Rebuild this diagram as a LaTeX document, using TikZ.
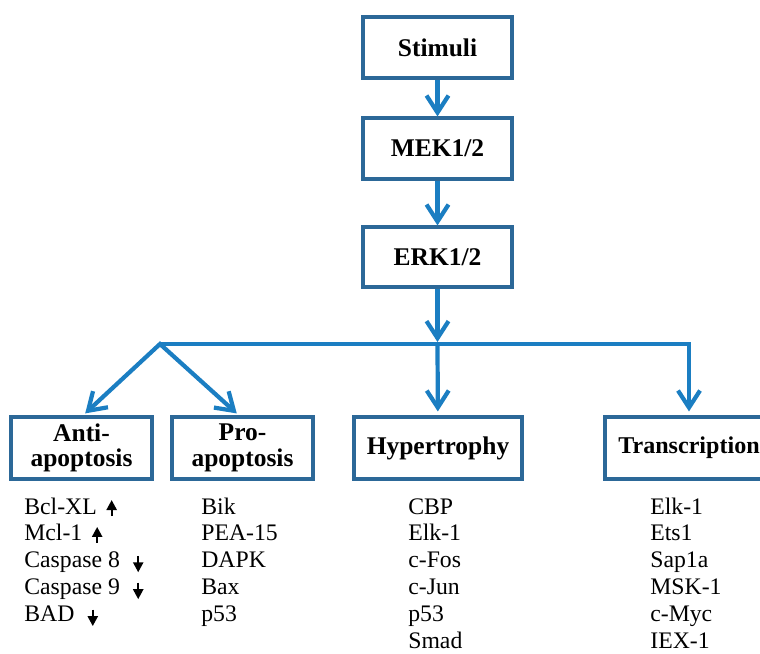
\documentclass[tikz,border=0pt]{standalone}
\usepackage{fontspec}
\setmainfont{Liberation Serif}
\usetikzlibrary{arrows.meta}
\usetikzlibrary{positioning}
\definecolor{flowblue}{RGB}{27,126,194}
\definecolor{boxblue}{RGB}{44,104,152}
\tikzset{>={Straight Barb[length=3.4mm,width=4.4mm]},
box/.style={draw=boxblue,line width=1.8pt,inner sep=0pt,align=center,font=\fontsize{14.5}{14.5}\selectfont\bfseries},
flow/.style={draw=flowblue,line width=2.4pt},
item/.style={inner sep=0pt,anchor=base west,font=\fontsize{13.5}{15}\selectfont},
updown/.style={line width=1.3pt,-{Triangle[length=2mm,width=2mm]}}}

\begin{document}
\begin{tikzpicture}[x=0.02cm,y=-0.02cm]
\useasboundingbox (0,0) rectangle (760,653);
\clip (0,0) rectangle (760,653);

% main chain
\node (stim) [box,minimum width=2.98cm,minimum height=1.22cm] at (437.5,47.5) {Stimuli};
\node (mek) [box,minimum width=2.98cm,minimum height=1.22cm] at (437.5,148.5) {MEK1/2};
\node (erk) [box,minimum width=2.98cm,minimum height=1.2cm] at (437.5,257) {ERK1/2};

% outcomes
\node (anti) [box,minimum width=2.82cm,minimum height=1.24cm] at (81.5,448) {Anti-\\apoptosis};
\node (pro) [box,minimum width=2.82cm,minimum height=1.24cm] at (242.5,448) {Pro-\\apoptosis};
\node (hyp) [box,minimum width=3.36cm,minimum height=1.24cm] at (438,448) {Hypertrophy};
\node (trans) [box,minimum width=3.36cm,minimum height=1.24cm,font=\fontsize{13.7}{14}\selectfont\bfseries] at (689,448) {Transcription};

\coordinate (split) at (160,344);
\coordinate (mid) at (437.5,344);

\draw[flow,->] (stim) -- (mek);
\draw[flow,->] (mek) -- (erk);
\draw[flow,->,shorten >=0.04cm] (erk) -- (mid);
\draw[flow,->,shorten >=0.08cm] (split) -| (trans.north);
\draw[flow,->,shorten >=0.08cm] (mid) -- (hyp);
\draw[flow,<->,shorten >=0.06cm,shorten <=0.06cm] ([xshift=0.03cm]anti.north) -- (split) -- ([xshift=-0.07cm]pro.north);

% lists
\foreach \t [count=\i] in {Bcl-XL,Mcl-1,Caspase 8,Caspase 9,BAD}
  \node (anti\i) [item] at (24,{514+26.9*(\i-1)}) {\t};
\foreach \t [count=\i] in {Bik,PEA-15,DAPK,Bax,p53}
  \node (pro\i) [item] at (201,{514+26.9*(\i-1)}) {\t};
\foreach \t [count=\i] in {CBP,Elk-1,c-Fos,c-Jun,p53,Smad}
  \node (hyp\i) [item] at (408,{514+26.9*(\i-1)}) {\t};
\foreach \t [count=\i] in {Elk-1,Ets1,Sap1a,MSK-1,c-Myc,IEX-1}
  \node (trans\i) [item] at (650,{514+26.9*(\i-1)}) {\t};

\foreach \i in {1,2}
  \draw[updown] ([xshift=0.29cm,yshift=-0.04cm]anti\i.base east) -- +(0,0.32cm);
\foreach \i in {3,4,5}
  \draw[updown] ([xshift=0.36cm,yshift=0.24cm]anti\i.base east) -- +(0,-0.33cm);
\end{tikzpicture}
\end{document}
